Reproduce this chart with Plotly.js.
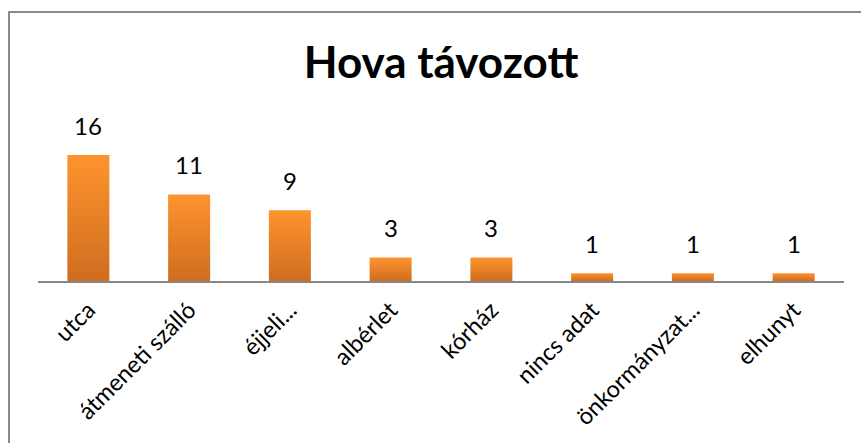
<!DOCTYPE html>
<html>
<head>
<meta charset="utf-8">
<script src="https://cdn.plot.ly/plotly-3.0.1.min.js"></script>
<style>
  html, body { margin: 0; padding: 0; background: #fff; }
  #chart { position: absolute; left: 0; top: 0; width: 861px; height: 443px; }
  #frame { position: absolute; left: 8px; top: 11px; width: 1000px; height: 1000px;
           border-left: 2px solid #8a8a8a; border-top: 2px solid #8a8a8a; pointer-events: none; }
</style>
</head>
<body>
<div id="chart"></div>
<div id="frame"></div>
<script>
const categories = ["utca", "átmeneti szálló", "éjjeli...", "albérlet", "kórház", "nincs adat", "önkormányzat...", "elhunyt"];
const values = [16, 11, 9, 3, 3, 1, 1, 1];
const chartTitle = "Hova távozott";

const font = "Lato, 'Open Sans', sans-serif";

const trace = {
  type: "bar",
  x: categories,
  y: values,
  marker: { color: "#EC8327" },
  hoverinfo: "none"
};

const annotations = categories.map((c, i) => ({
  x: c, y: values[i], text: String(values[i]),
  xref: "x", yref: "y", showarrow: false,
  yanchor: "bottom", yshift: 13,
  font: { family: font, size: 24, color: "#000" }
}));

const layout = {
  width: 861, height: 443,
  margin: { l: 38, r: 17, t: 155, b: 162 },
  paper_bgcolor: "rgba(0,0,0,0)",
  plot_bgcolor: "rgba(0,0,0,0)",
  bargap: 0.583,
  showlegend: false,
  title: {
    text: chartTitle,
    font: { family: font, size: 44, color: "#000", weight: "bold" },
    xref: "paper", x: 0.5, xanchor: "center",
    yref: "container", y: 1 - 63 / 443, yanchor: "middle"
  },
  xaxis: {
    showline: true, linecolor: "#878787", linewidth: 2,
    showgrid: false, zeroline: false, ticks: "",
    tickangle: -45,
    ticklabelstandoff: 4,
    tickfont: { family: font, size: 23.5, color: "#000" }
  },
  yaxis: {
    range: [0, 16], visible: false, showgrid: false, zeroline: false
  },
  annotations: annotations
};

Plotly.newPlot("chart", [trace], layout, { staticPlot: true }).then(gd => {
  const svg = gd.querySelector("svg.main-svg");
  const ns = "http://www.w3.org/2000/svg";
  let defs = svg.querySelector("defs");
  if (!defs) { defs = document.createElementNS(ns, "defs"); svg.insertBefore(defs, svg.firstChild); }
  const grad = document.createElementNS(ns, "linearGradient");
  grad.setAttribute("id", "barGrad");
  grad.setAttribute("x1", "0"); grad.setAttribute("y1", "0");
  grad.setAttribute("x2", "0"); grad.setAttribute("y2", "1");
  [["0", "#FE942E"], ["1", "#CF6D20"]].forEach(([o, c]) => {
    const s = document.createElementNS(ns, "stop");
    s.setAttribute("offset", o); s.setAttribute("stop-color", c);
    grad.appendChild(s);
  });
  defs.appendChild(grad);
  gd.querySelectorAll(".bars .point path").forEach(p => {
    p.style.setProperty("fill", "url(#barGrad)");
  });
});
</script>
</body>
</html>
